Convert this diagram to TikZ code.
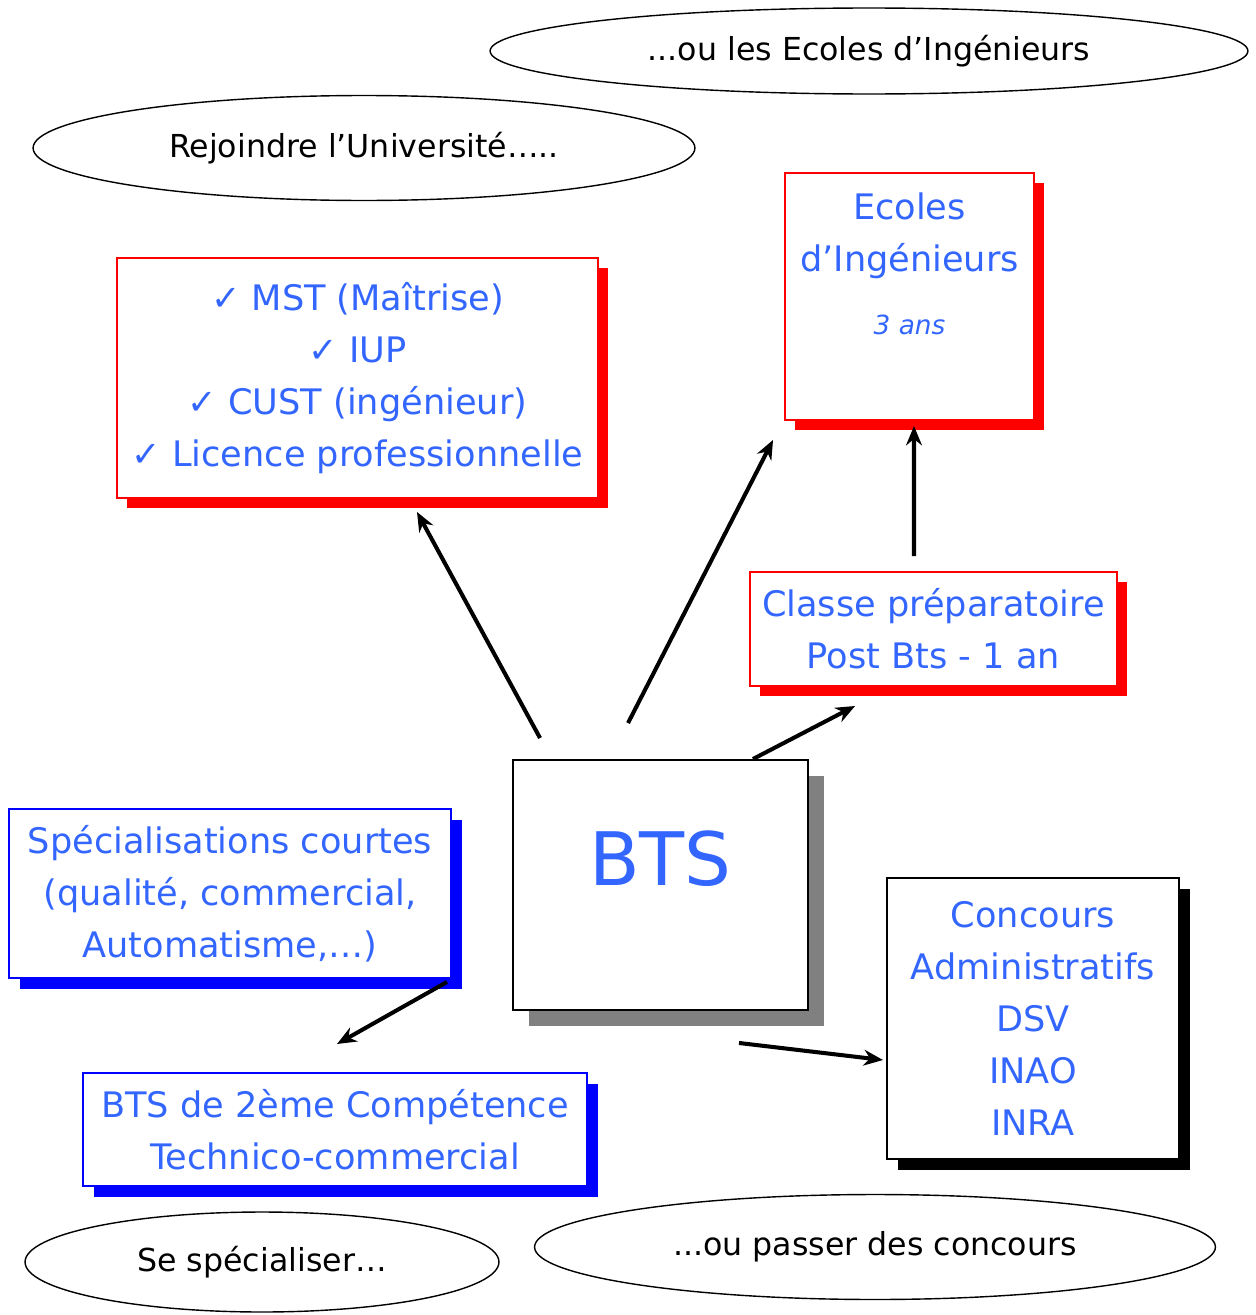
\documentclass[tikz,border=0pt]{standalone}
\usepackage{fontspec}
\setmainfont{DejaVu Sans}
\usepackage{xcolor}
\usepackage{tikz}
\usetikzlibrary{shapes.geometric, arrows.meta, positioning, calc, shadows}

\definecolor{txtblue}{RGB}{51,102,255}
\definecolor{shadowgray}{RGB}{128,128,128}

\begin{document}
\begin{tikzpicture}[x=0.02cm, y=-0.02cm]
    % Styles
    \tikzstyle{bubble} = [ellipse, draw, line width=0.8pt, inner sep=0pt, font=\fontsize{18}{24}\selectfont]
    \tikzstyle{box} = [rectangle, fill=white, line width=0.8pt, text=txtblue, align=center, inner sep=3pt, outer sep=0pt, font=\fontsize{20}{29.5}\selectfont]
    \tikzstyle{redbox} = [box, draw=red, drop shadow={shadow xshift=0.2cm, shadow yshift=-0.2cm, fill=red, opacity=1}]
    \tikzstyle{bluebox} = [box, draw=blue, drop shadow={shadow xshift=0.22cm, shadow yshift=-0.22cm, fill=blue, opacity=1}]
    \tikzstyle{blackbox} = [box, draw=black, line width=1.2pt, drop shadow={shadow xshift=0.22cm, shadow yshift=-0.22cm, fill=black, opacity=1}]
    \tikzstyle{line} = [draw, -{Stealth[length=11pt, width=9pt]}, line width=2.3pt]

    \useasboundingbox (0,0) rectangle (1256,1315);

    % --- BUBBLES ---
    \node [bubble, minimum width=15.16cm, minimum height=1.72cm] (ecolestitle) at (869,51) {...ou les Ecoles d’Ingénieurs};
    \node [bubble, minimum width=13.24cm, minimum height=2.1cm] (univtitle) at (364,148) {Rejoindre l’Université…..};
    \node [bubble, minimum width=9.48cm, minimum height=2cm] (spectitle) at (262,1262) {Se spécialiser…};
    \node [bubble, minimum width=13.62cm, minimum height=2.1cm] (concourstitle) at (875,1247) {...ou passer des concours};

    % --- UNIVERSITE / ECOLES ---
    \node [redbox, minimum width=9.62cm, minimum height=4.8cm] (mst) at (357.5,378)
        {✓ MST (Maîtrise)\\✓ IUP\\✓ CUST (ingénieur)\\✓ Licence professionnelle};
    \node [redbox, minimum width=4.98cm, minimum height=4.94cm] (ecoles) at (909.5,296.5)
        {Ecoles\\d’Ingénieurs\\[6pt]{\fontsize{15}{18}\selectfont\itshape 3 ans}\\[8pt]\mbox{}};
    \node [redbox, minimum width=7.34cm, minimum height=2.28cm] (prepa) at (933.5,629)
        {Classe préparatoire\\Post Bts - 1 an};

    % --- BTS ---
    \node [box, draw=black, line width=1.4pt, text height=1cm, text depth=1cm, font=\fontsize{42}{50}\selectfont,
        minimum width=5.9cm, minimum height=5cm,
        drop shadow={shadow xshift=0.32cm, shadow yshift=-0.32cm, fill=shadowgray, opacity=1}] (bts) at (660.5,885) {BTS};

    % --- SPECIALISATIONS / CONCOURS ---
    \node [bluebox, minimum width=8.84cm, minimum height=3.38cm] (courtes) at (230,893.5)
        {Spécialisations courtes\\(qualité, commercial,\\Automatisme,…)};
    \node [bluebox, minimum width=10.08cm, minimum height=2.26cm] (competence) at (335,1129.5)
        {BTS de 2ème Compétence\\Technico-commercial};
    \node [blackbox, minimum width=5.84cm, minimum height=5.62cm] (concours) at (1033,1018.5)
        {Concours\\Administratifs\\DSV\\INAO\\INRA};

    % --- CONNECTIONS ---
    \path [line] ($(bts.north west)+(27,-22)$) -- ($(mst.south)+(59.5,14)$);
    \path [line] ($(bts.north west)+(115,-37)$) -- ($(ecoles.south west)+(-12,20)$);
    \path [line] ($(bts.north east)+(-55,-1)$) -- ($(prepa.south west)+(105,20)$);
    \path [line] ($(prepa.north)+(-19.5,-16)$) -- ($(ecoles.south)+(4.5,6)$);
    \path [line] ($(courtes.south east)+(-4,4)$) -- ($(competence.north)+(2,-29)$);
    \path [line] ($(bts.south)+(78.5,33)$) -- ($(concours.west)+(-4,41.5)$);

\end{tikzpicture}
\end{document}
